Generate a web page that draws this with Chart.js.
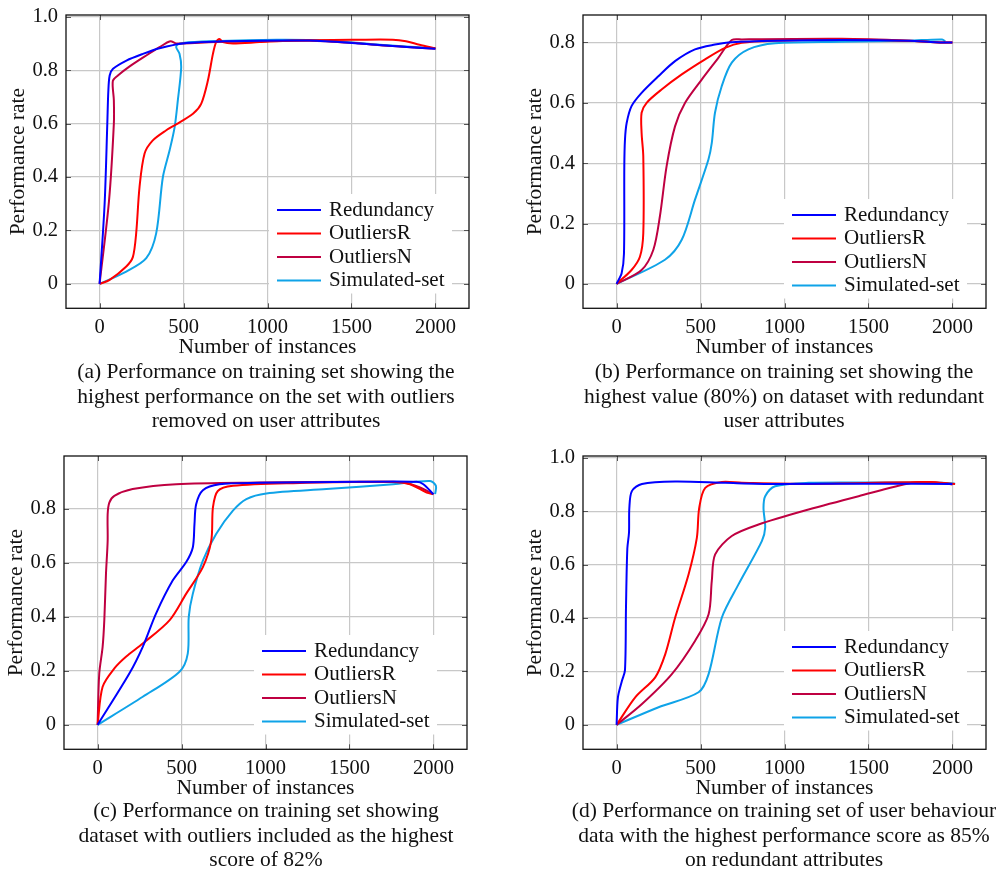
<!DOCTYPE html>
<html>
<head>
<meta charset="utf-8">
<script src="https://cdn.jsdelivr.net/npm/chart.js@4.4.1/dist/chart.umd.min.js"></script>
<style>
  body { margin: 0; background: #fff; width: 1001px; height: 875px; position: relative; overflow: hidden;
         font-family: "Liberation Serif", serif; color: #111; }
  .panel { position: absolute; width: 484px; height: 362px; }
  .caption { position: absolute; width: 500px; text-align: center; font-size: 21.5px; line-height: 24.5px; }
</style>
</head>
<body>

<div class="panel" style="left:0;top:0"><canvas id="chartA"></canvas></div>
<div class="panel" style="left:517px;top:0"><canvas id="chartB"></canvas></div>
<div class="panel" style="left:-2px;top:441px"><canvas id="chartC"></canvas></div>
<div class="panel" style="left:517px;top:441px"><canvas id="chartD"></canvas></div>

<div class="caption" style="left:16px;top:359px">(a) Performance on training set showing the<br>highest performance on the set with outliers<br>removed on user attributes</div>
<div class="caption" style="left:534px;top:359px">(b) Performance on training set showing the<br>highest value (80%) on dataset with redundant<br>user attributes</div>
<div class="caption" style="left:16px;top:798px">(c) Performance on training set showing<br>dataset with outliers included as the highest<br>score of 82%</div>
<div class="caption" style="left:534px;top:798px">(d) Performance on training set of user behaviour<br>data with the highest performance score as 85%<br>on redundant attributes</div>

<script>
// ---- Data ----
const seriesNames  = ['Redundancy', 'OutliersR', 'OutliersN', 'Simulated-set'];
const seriesColors = ['#0000ff', '#ff0000', '#bf0041', '#0fa3e8'];

const xTicks      = [0, 500, 1000, 1500, 2000];
const xTickLabels = ['0', '500', '1000', '1500', '2000'];
const yTicksFull  = [0, 0.2, 0.4, 0.6, 0.8, 1.0];
const yLabelsFull = ['0', '0.2', '0.4', '0.6', '0.8', '1.0'];
const yTicksShort = [0, 0.2, 0.4, 0.6, 0.8];
const yLabelsShort = ['0', '0.2', '0.4', '0.6', '0.8'];

// (a)
const aRedundancy = [[0,0],[30,0.3],[46,0.6],[52,0.72],[60,0.78],[80,0.805],[160,0.836],[258,0.861],[357,0.882],[496,0.900],[754,0.908],[1250,0.911],[1548,0.900],[1746,0.890],[2000,0.880]];
const aOutliersR  = [[0,0],[60,0.015],[159,0.065],[198,0.10],[218,0.19],[238,0.363],[268,0.488],[317,0.537],[397,0.575],[456,0.597],[556,0.637],[605,0.674],[645,0.761],[675,0.861],[694,0.905],[714,0.917],[734,0.905],[794,0.900],[952,0.905],[1151,0.911],[1548,0.914],[1746,0.914],[1825,0.908],[1905,0.895],[2000,0.882]];
const aOutliersN  = [[0,0],[56,0.31],[85,0.6],[85,0.687],[79,0.76],[109,0.78],[179,0.814],[278,0.855],[357,0.886],[421,0.908],[456,0.900],[496,0.900],[754,0.906],[1250,0.910],[1548,0.900],[1746,0.890],[2000,0.880]];
const aSimulated  = [[0,0],[159,0.046],[278,0.096],[337,0.189],[377,0.40],[417,0.50],[447,0.587],[466,0.687],[486,0.811],[476,0.861],[456,0.886],[466,0.896],[496,0.902],[655,0.908],[1052,0.914],[1349,0.911],[1647,0.896],[2000,0.882]];

// (b)
const bRedundancy = [[0,0],[30,0.035],[44,0.10],[46,0.39],[50,0.478],[60,0.533],[89,0.589],[149,0.633],[249,0.688],[348,0.738],[467,0.777],[586,0.793],[686,0.801],[944,0.806],[1342,0.808],[1740,0.806],[1899,0.801],[2000,0.800]];
const bOutliersR  = [[0,0],[89,0.046],[139,0.09],[159,0.168],[159,0.423],[149,0.50],[149,0.567],[179,0.60],[268,0.644],[388,0.694],[527,0.744],[646,0.782],[746,0.799],[944,0.806],[1342,0.810],[1740,0.806],[1899,0.801],[2000,0.800]];
const bOutliersN  = [[0,0],[149,0.046],[219,0.113],[258,0.224],[298,0.39],[348,0.522],[408,0.60],[507,0.677],[606,0.749],[686,0.808],[746,0.810],[1342,0.812],[1740,0.806],[1899,0.801],[2000,0.800]];
const bSimulated  = [[0,0],[288,0.08],[388,0.146],[467,0.279],[547,0.412],[567,0.467],[586,0.567],[626,0.655],[686,0.733],[785,0.777],[944,0.797],[1342,0.802],[1740,0.806],[1939,0.810],[1958,0.803]];

// (c)
const cRedundancy = [[0,0],[189,0.19],[269,0.289],[348,0.412],[448,0.535],[527,0.602],[567,0.657],[577,0.743],[587,0.817],[627,0.869],[726,0.891],[965,0.896],[1562,0.900],[1900,0.900],[1940,0.891],[2000,0.854]];
const cOutliersR  = [[0,0],[30,0.141],[100,0.209],[169,0.252],[269,0.301],[428,0.387],[527,0.485],[627,0.584],[677,0.682],[687,0.805],[716,0.866],[806,0.885],[1164,0.895],[1761,0.900],[1861,0.891],[1960,0.860],[2000,0.854]];
const cOutliersN  = [[0,0],[10,0.19],[30,0.289],[40,0.387],[50,0.559],[60,0.682],[60,0.78],[70,0.823],[100,0.848],[209,0.873],[468,0.891],[965,0.897],[1562,0.900],[1821,0.897],[1920,0.879],[2000,0.854]];
const cSimulated  = [[0,0],[269,0.104],[488,0.197],[537,0.264],[543,0.40],[567,0.485],[627,0.608],[706,0.707],[806,0.793],[886,0.836],[1005,0.857],[1363,0.873],[1761,0.891],[1980,0.903],[2015,0.885],[2010,0.854]];

// (d)
const dRedundancy = [[0,0],[8,0.103],[32,0.165],[50,0.205],[56,0.439],[64,0.66],[74,0.72],[76,0.812],[91,0.875],[151,0.902],[349,0.911],[647,0.906],[944,0.902],[1540,0.903],[2000,0.902]];
const dOutliersR  = [[0,0],[111,0.103],[230,0.178],[290,0.265],[349,0.402],[429,0.564],[478,0.70],[492,0.812],[528,0.887],[627,0.909],[746,0.906],[1143,0.902],[1857,0.909],[2016,0.902]];
const dOutliersN  = [[0,0],[151,0.078],[329,0.19],[468,0.315],[548,0.414],[567,0.539],[587,0.638],[686,0.707],[845,0.75],[1143,0.806],[1441,0.856],[1758,0.906],[1857,0.909],[2000,0.900]];
const dSimulated  = [[0,0],[250,0.066],[488,0.122],[548,0.19],[627,0.402],[726,0.526],[865,0.688],[885,0.738],[875,0.812],[885,0.856],[944,0.893],[1143,0.906],[1540,0.907],[1937,0.906],[2016,0.903]];

const FONT = '"Liberation Serif", serif';

// ---- Frame, tick marks and legend (pgfplots look) ----
const framePlugin = {
  id: 'frame',
  afterDatasetsDraw(chart, args, opts) {
    const { ctx, chartArea: a, scales: { x, y } } = chart;
    ctx.save();

    // legend box
    const bx = a.left + opts.legendX;
    const by = a.top + opts.legendY;
    const rowH = 23.5;
    ctx.fillStyle = '#fff';
    ctx.fillRect(bx, by - 16, 183, 16 + rowH * 3 + 13);
    chart.data.datasets.forEach(function (ds, i) {
      const ry = by + i * rowH;
      ctx.strokeStyle = ds.borderColor;
      ctx.lineWidth = 2;
      ctx.beginPath();
      ctx.moveTo(bx + 8, ry);
      ctx.lineTo(bx + 52, ry);
      ctx.stroke();
      ctx.fillStyle = '#111';
      ctx.font = '21px ' + FONT;
      ctx.textBaseline = 'middle';
      ctx.textAlign = 'left';
      ctx.fillText(ds.label, bx + 60, ry);
    });

    // tick marks on all four sides
    ctx.strokeStyle = '#555';
    ctx.lineWidth = 1;
    ctx.beginPath();
    x.ticks.forEach(function (t) {
      const px = Math.round(x.getPixelForValue(t.value)) + 0.5;
      ctx.moveTo(px, a.bottom); ctx.lineTo(px, a.bottom - 5);
      ctx.moveTo(px, a.top);    ctx.lineTo(px, a.top + 5);
    });
    y.ticks.forEach(function (t) {
      const py = Math.round(y.getPixelForValue(t.value)) + 0.5;
      ctx.moveTo(a.left, py);  ctx.lineTo(a.left + 5, py);
      ctx.moveTo(a.right, py); ctx.lineTo(a.right - 5, py);
    });
    ctx.stroke();

    // border
    ctx.strokeStyle = '#111';
    ctx.lineWidth = 1.3;
    ctx.strokeRect(a.left, a.top, a.width, a.height);
    ctx.restore();
  }
};

function makeChart(canvasId, series, yTicks, yLabels, yMin, yMax, legendX, legendY) {
  const datasets = series.map(function (pts, i) {
    return {
      label: seriesNames[i],
      data: pts.map(function (p) { return { x: p[0], y: p[1] }; }),
      showLine: true,
      borderColor: seriesColors[i],
      backgroundColor: seriesColors[i],
      borderWidth: 2,
      pointRadius: 0,
      tension: 0.3
    };
  });

  return new Chart(document.getElementById(canvasId), {
    type: 'scatter',
    data: { datasets: datasets },
    plugins: [framePlugin],
    options: {
      responsive: true,
      maintainAspectRatio: false,
      animation: false,
      layout: { padding: { top: 15, right: 15, left: 0, bottom: 0 } },
      plugins: {
        legend: { display: false },
        tooltip: { enabled: false },
        frame: { legendX: legendX, legendY: legendY }
      },
      scales: {
        x: {
          type: 'linear', min: -200, max: 2200,
          afterBuildTicks: function (axis) { axis.ticks = xTicks.map(function (v) { return { value: v }; }); },
          afterFit: function (axis) { axis.height = 53.7; axis.paddingLeft = 0; axis.paddingRight = 0; },
          grid: { color: '#c8c8c8', lineWidth: 1.2, drawTicks: false },
          border: { display: false },
          ticks: {
            padding: 7, color: '#111', font: { family: FONT, size: 20.5 }, maxRotation: 0,
            callback: function (v, i) { return xTickLabels[i]; }
          },
          title: { display: true, text: 'Number of instances', color: '#111',
                   font: { family: FONT, size: 21.5 }, padding: { top: 0, bottom: 1.5 } }
        },
        y: {
          type: 'linear', min: yMin, max: yMax,
          afterBuildTicks: function (axis) { axis.ticks = yTicks.map(function (v) { return { value: v }; }); },
          afterFit: function (axis) { axis.width = 66; axis.paddingTop = 0; axis.paddingBottom = 0; },
          grid: { color: '#c8c8c8', lineWidth: 1.2, drawTicks: false },
          border: { display: false },
          ticks: {
            padding: 8, color: '#111', font: { family: FONT, size: 20.5 },
            callback: function (v, i) { return yLabels[i]; }
          },
          title: { display: true, text: 'Performance rate', color: '#111',
                   font: { family: FONT, size: 21.5 }, padding: { top: 5, bottom: 0 } }
        }
      }
    }
  });
}

makeChart('chartA', [aRedundancy, aOutliersR, aOutliersN, aSimulated], yTicksFull,  yLabelsFull,  -0.0915, 1.0065, 203, 195);
makeChart('chartB', [bRedundancy, bOutliersR, bOutliersN, bSimulated], yTicksShort, yLabelsShort, -0.081,  0.891,  201, 200);
makeChart('chartC', [cRedundancy, cOutliersR, cOutliersN, cSimulated], yTicksShort, yLabelsShort, -0.0905, 0.9955, 190, 195);
makeChart('chartD', [dRedundancy, dOutliersR, dOutliersN, dSimulated], yTicksFull,  yLabelsFull,  -0.0915, 1.0065, 201, 191);
</script>
</body>
</html>
